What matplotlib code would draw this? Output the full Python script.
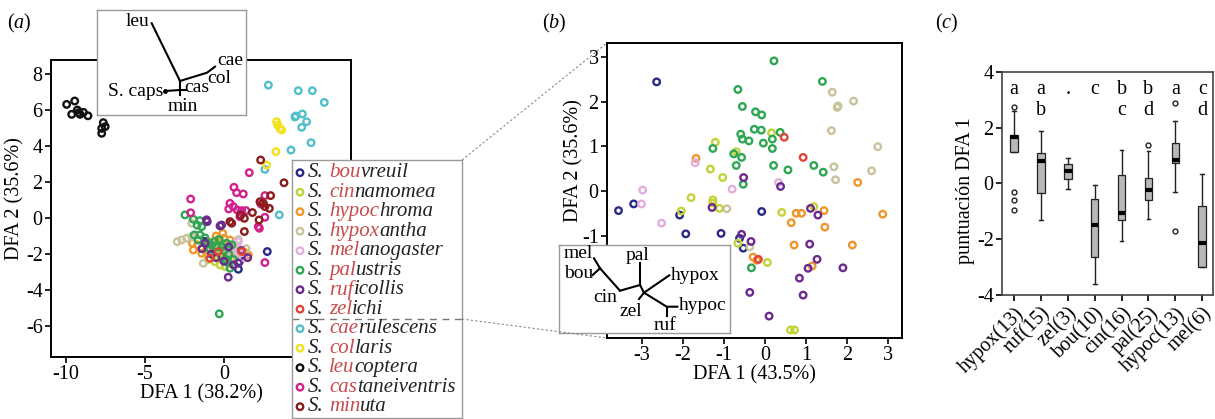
import matplotlib
matplotlib.use("Agg")
import matplotlib.pyplot as plt
from matplotlib.lines import Line2D

plt.rcParams['font.family'] = ['Liberation Serif', 'DejaVu Serif']
plt.rcParams['axes.unicode_minus'] = False
plt.rcParams['mathtext.fontset'] = 'custom'
plt.rcParams['mathtext.rm'] = 'Liberation Serif'
plt.rcParams['mathtext.it'] = 'Liberation Serif:italic'

W, H = 1215, 419
FS = 14.5

# ---------------- data ----------------
# species order in the legend: (prefix in red, rest, colour)
species = [("bou", "vreuil", "#2a2a86"), ("cin", "namomea", "#c4d23a"),
           ("hypoc", "hroma", "#ef962c"), ("hypox", "antha", "#c9c39c"),
           ("mel", "anogaster", "#e2aede"), ("pal", "ustris", "#2fa653"),
           ("ruf", "icollis", "#6c2b8c"), ("zel", "ichi", "#e0453a"),
           ("cae", "rulescens", "#52bfc9"), ("col", "laris", "#f2e21e"),
           ("leu", "coptera", "#111111"), ("cas", "taneiventris", "#d2228c"),
           ("min", "uta", "#8c1c1c")]

# panel (a): DFA scores of all 13 species
a_bou = [(0.59, -2.32), (0.97, -2.42), (0.91, -2.84), (2.74, -1.86), (1.22, -2.05),
         (-0.15, -1.96), (0.2, -2.1), (-1.2, -1.3), (0.45, -1.7), (-0.6, -2.0)]
a_cin = [(-0.57, -2.42), (-0.25, -2.6), (0.06, -2.69), (-0.4, -1.7), (0.1, -1.6), (0.5, -2.2),
         (-1.0, -2.3), (0.3, -2.5), (-0.2, -1.4), (0.8, -1.9), (-0.7, -1.9), (0.0, -2.1),
         (0.6, -1.6), (-0.3, -2.2), (0.35, -1.95), (-1.1, -2.0)]
a_hypoc = [(-0.08, -0.85), (0.0, -1.12), (-1.94, -1.77), (-1.67, -1.49), (-1.1, -1.77),
           (-1.41, -1.96), (-0.93, -1.35), (-0.36, -1.18), (1.54, -2.05), (0.38, -1.22),
           (-0.5, -1.0), (1.3, -1.9), (-2.0, -1.4)]
a_hypox = [(-2.96, -1.31), (-2.68, -1.22), (-2.36, -1.12), (-2.04, -1.03), (-2.04, -0.29),
           (-1.31, -2.51), (0.9, -1.2), (0.38, -1.96), (0.70, -2.05), (0.2, -1.8),
           (-0.2, -1.6), (1.4, -1.7), (0.6, -1.5)]
a_mel = [(0.91, -1.31), (1.01, -1.96), (0.8, -1.6), (1.2, -2.2), (0.5, -1.8), (-0.8, -1.5)]
a_pal = [(-2.47, 0.17), (-1.94, -0.07), (-1.52, -0.15), (-1.41, -0.48), (-1.88, -0.94),
         (-1.52, -0.94), (-1.63, -1.22), (-0.78, -1.49), (-0.46, -1.59), (-0.15, -1.62),
         (0.17, -1.40), (0.49, -1.49), (0.17, -2.42), (0.38, -2.78), (-0.3, -5.31),
         (-1.2, -1.1), (-0.6, -1.3), (0.0, -1.8), (-0.9, -1.7), (0.3, -2.0), (-1.7, -0.4),
         (-0.3, -1.2), (0.6, -2.3), (-1.0, -1.4), (0.1, -2.3)]
a_ruf = [(-1.06, -0.2), (-0.15, -0.39), (0.27, -3.28), (-1.1, -0.1), (-0.25, -0.44),
         (-1.2, -1.4), (0.6, -2.6), (1.5, -2.2), (-0.5, -2.2), (0.0, -2.4), (1.1, -1.8),
         (-0.8, -2.0), (0.3, -1.6), (-1.4, -1.7), (0.9, -2.5)]
a_zel = [(-0.36, -1.86), (-0.89, -2.23), (1.12, -1.86)]
a_cae = [(2.81, 7.36), (4.70, 7.05), (5.59, 7.05), (6.35, 6.40), (4.49, 5.59), (4.55, 5.65),
         (4.96, 5.76), (5.23, 5.33), (4.92, 5.02), (5.51, 4.17), (4.24, 3.76), (2.59, 2.69),
         (3.50, 0.17)]
a_col = [(3.33, 5.33), (3.40, 5.15), (3.54, 4.96), (3.65, 4.87), (3.29, 3.67), (2.70, 2.93)]
a_leu = [(-9.96, 6.29), (-9.45, 6.48), (-9.64, 5.74), (-9.28, 5.98), (-9.11, 5.74),
         (-8.90, 5.85), (-8.61, 5.66), (-9.2, 5.83), (-7.64, 5.28), (-7.74, 4.96),
         (-7.52, 5.06), (-7.74, 4.69)]
a_cas = [(-2.11, 1.05), (-2.11, 0.29), (1.60, 2.51), (0.63, 1.70), (0.80, 1.40), (1.22, 1.33),
         (0.38, 0.81), (0.59, 0.63), (0.30, 0.50), (0.84, 0.44), (1.12, 0.41), (1.39, 0.41),
         (1.01, 0.07), (2.24, -0.57), (2.59, 0.04), (2.59, -2.47), (2.34, 0.77), (2.59, 1.24),
         (2.17, -0.48), (1.06, 0.31)]
a_min = [(2.32, 3.21), (3.80, 1.95), (2.28, 0.90), (2.49, 0.81), (2.95, 1.24), (2.59, 0.63),
         (2.87, 0.53), (0.49, -0.29), (1.29, -0.02), (2.22, -0.11), (1.29, -0.75),
         (0.38, -0.2), (1.05, 0.15), (1.8, 0.3)]
a_points = [a_bou, a_cin, a_hypoc, a_hypox, a_mel, a_pal, a_ruf, a_zel,
            a_cae, a_col, a_leu, a_cas, a_min]

# panel (b): DFA of the eight capuchino species
b_bou = [(-2.64, 2.44), (-3.57, -0.44), (-3.20, -0.29), (-2.08, -0.54), (-1.93, -0.96),
         (-1.07, -0.95), (-0.08, -0.46), (-0.62, -1.06), (-0.53, -1.28)]
b_cin = [(-1.21, 1.09), (-0.70, 0.88), (-1.33, 0.49), (-1.03, 0.30), (-1.80, -0.15),
         (-2.04, -0.45), (-1.27, -0.20), (-1.27, -0.27), (-1.11, -0.39), (0.16, 1.30),
         (0.41, -0.48), (1.19, -0.35), (0.06, -1.60), (0.62, -3.11), (0.72, -3.11),
         (-0.66, -1.17)]
b_hypoc = [(-1.68, 0.73), (2.26, 0.19), (0.64, -0.71), (0.76, -0.50), (0.89, -0.50),
           (1.44, -0.44), (1.46, -0.81), (0.71, -1.21), (2.13, -1.21), (-0.29, -1.48),
           (1.15, -1.68), (2.87, -0.52), (-0.2, -1.55)]
b_hypox = [(1.64, 2.21), (2.16, 2.01), (1.76, 1.87), (1.78, 1.90), (1.62, 1.35), (1.68, 0.54),
           (1.72, 0.25), (2.75, 0.99), (2.60, 0.45), (-0.93, -0.40), (-0.37, -1.25)]
b_mel = [(-2.98, 0.02), (-3.01, -0.29), (-2.52, -0.72), (-1.70, 0.63), (-0.80, 0.04),
         (0.33, 0.19)]
b_pal = [(0.22, 2.91), (1.40, 2.45), (-0.66, 2.27), (-0.55, 1.89), (-0.23, 1.77), (-0.08, 1.70),
         (-0.26, 1.38), (-0.09, 1.36), (0.37, 1.31), (-0.59, 1.27), (-0.55, 1.16), (-0.39, 1.12),
         (0.18, 1.16), (-0.04, 1.07), (0.18, 0.95), (-0.76, 0.83), (-0.57, 0.75), (-0.70, 0.57),
         (0.21, 0.57), (0.56, 0.47), (1.19, 0.57), (1.42, 0.42), (-0.53, 0.15), (-1.27, 0.95),
         (-0.33, -1.72)]
b_ruf = [(-1.29, -0.37), (-0.52, 0.30), (0.38, 0.10), (1.11, -0.39), (1.29, -0.54),
         (-0.57, -0.97), (-0.34, -1.13), (1.09, -1.19), (1.27, -1.53), (1.05, -1.73),
         (1.90, -1.72), (0.84, -1.95), (-0.37, -2.27), (0.93, -2.33), (0.10, -2.80)]
b_zel = [(0.47, 1.20), (0.93, 0.75), (-0.16, -1.53)]
b_points = [b_bou, b_cin, b_hypoc, b_hypox, b_mel, b_pal, b_ruf, b_zel]

# panel (c): box plots of DFA 1 scores
groups = ['hypox(13)', 'ruf(15)', 'zel(3)', 'bou(10)', 'cin(16)', 'pal(25)', 'hypoc(13)', 'mel(6)']
q1 = [1.14, -0.35, 0.15, -2.65, -1.3, -0.58, 0.72, -3.0]
med = [1.68, 0.81, 0.45, -1.5, -1.06, -0.25, 0.86, -2.13]
q3 = [1.75, 1.08, 0.69, -0.55, 0.3, 0.2, 1.44, -0.82]
whislo = [1.14, -1.3, -0.19, -3.6, -2.07, -1.28, -0.32, -3.0]
whishi = [2.6, 1.87, 0.9, -0.07, 1.2, 1.17, 2.23, 0.35]
fliers = [[2.75, -0.3, -0.6, -0.95], [], [], [], [], [1.38], [2.9, -1.7], []]
letters_top = ['a', 'a', '.', 'c', 'b', 'b', 'a', 'c']
letters_bottom = ['', 'b', '', '', 'c', 'd', '', 'd']

# dendrograms (inset coordinates, pixels inside the inset box)
tree_a_segments = [[(54.7, 13.3), (83, 71)], [(83, 71), (110, 62.7), (118, 56.7)],
                   [(83, 71), (83, 80)], [(68, 81), (83, 80), (89, 80)], [(83, 80), (83, 85)]]
tree_a_labels = [("leu", 52, 12, 'right'), ("cae", 120, 50, 'left'), ("col", 110, 68, 'left'),
                 ("S. caps", 66, 81, 'right'), ("cas", 87, 77, 'left'), ("min", 86, 96, 'center')]
tree_b_segments = [[(35, 13.3), (41, 23.3)], [(33.7, 30), (41, 23.3)], [(41, 23.3), (61, 45.7)],
                   [(61, 45.7), (81, 40)], [(81, 40), (81, 18.3)], [(81, 40), (85, 47.7)],
                   [(85, 47.7), (110.3, 30.3)], [(85, 47.7), (107.7, 61.7), (118.3, 61.7)],
                   [(107.7, 61.7), (107.7, 71)], [(85, 47.7), (80, 54)]]
tree_b_labels = [("mel", 34, 9, 'right'), ("bou", 34, 29, 'right'), ("cin", 58, 52, 'right'),
                 ("pal", 78, 11, 'center'), ("hypox", 112, 30, 'left'), ("hypoc", 120, 61, 'left'),
                 ("ruf", 106, 80, 'center'), ("zel", 72, 67, 'center')]


def box(l, t, r, b):
    return [l / W, 1 - b / H, (r - l) / W, (b - t) / H]


def style_axes(ax, lw=1.4, color='black'):
    for s in ax.spines.values():
        s.set_linewidth(lw)
        s.set_color(color)
    ax.tick_params(direction='out', length=4, width=1.2, labelsize=FS, pad=2)


def grey_frame(ax):
    ax.set_xticks([])
    ax.set_yticks([])
    for s in ax.spines.values():
        s.set_color('#9a9a9a')
        s.set_linewidth(1.0)


fig = plt.figure(figsize=(W / 100, H / 100), dpi=100)
renderer = fig.canvas.get_renderer()


def text_width(ax, s, **kw):
    t = ax.text(0, 0, s, **kw)
    w = t.get_window_extent(renderer).width
    t.remove()
    return w


# ---------------- panel (a) ----------------
ax_a = fig.add_axes(box(51, 60, 351, 357))
for pts, (_, _, col) in zip(a_points, species):
    ax_a.scatter([p[0] for p in pts], [p[1] for p in pts], s=22, facecolors='none',
                 edgecolors=col, linewidths=1.7, zorder=3)
ax_a.set_xlim(-10.95, 8.04)
ax_a.set_ylim(-7.7, 8.75)
ax_a.set_xticks([-10, -5, 0])  # the "5" tick sits under the legend box
ax_a.set_yticks([-6, -4, -2, 0, 2, 4, 6, 8])
ax_a.set_xlabel('DFA 1 (38.2%)', fontsize=FS, labelpad=0)
ax_a.set_ylabel('DFA 2 (35.6%)', fontsize=FS)
ax_a.yaxis.set_label_coords(-0.087, 0.535)
style_axes(ax_a)

# inset tree (a)
ax_ta = fig.add_axes(box(97, 10, 246, 115))
ax_ta.set_xlim(0, 149)
ax_ta.set_ylim(105, 0)
for seg in tree_a_segments:
    ax_ta.plot([p[0] for p in seg], [p[1] for p in seg], color='black', lw=1.5)
ax_ta.plot([68], [81], marker='o', ms=2.5, color='black')
for txt, x, y, ha in tree_a_labels:
    ax_ta.text(x, y, txt, ha=ha, va='center', fontsize=14)
grey_frame(ax_ta)

# legend box (data units = pixels)
ax_lg = fig.add_axes(box(292, 160, 462, 418))
ax_lg.set_xlim(0, 170)
ax_lg.set_ylim(258, 0)
grey_frame(ax_lg)
lg_kw = dict(fontsize=15, fontstyle='italic', va='center', ha='left')
x_ref = text_width(ax_lg, 'x', **lg_kw)
for i, (pre, rest, col) in enumerate(species):
    y = 12.7 + i * 19.5
    ax_lg.scatter([8], [y], s=22, facecolors='none', edgecolors=col, linewidths=1.7)
    x0 = 16
    x1 = x0 + text_width(ax_lg, 'S. x', **lg_kw) - x_ref
    x2 = x0 + text_width(ax_lg, 'S. ' + pre + 'x', **lg_kw) - x_ref
    ax_lg.text(x0, y, 'S.', color='#222222', **lg_kw)
    ax_lg.text(x1, y, pre, color='#c94a4a', **lg_kw)
    ax_lg.text(x2, y, rest, color='#222222', **lg_kw)
ax_lg.plot([0, 170], [159, 159], color='#777777', lw=1.0, ls=(0, (5, 4)))

# ---------------- panel (b) ----------------
ax_b = fig.add_axes(box(607, 43, 902, 338))
for pts, (_, _, col) in zip(b_points, species[:8]):
    ax_b.scatter([p[0] for p in pts], [p[1] for p in pts], s=22, facecolors='none',
                 edgecolors=col, linewidths=1.7, zorder=3)
ax_b.set_xlim(-3.85, 3.34)
ax_b.set_ylim(-3.29, 3.31)
ax_b.set_xticks([-3, -2, -1, 0, 1, 2, 3])
ax_b.set_yticks([-1, 0, 1, 2, 3])  # lower ticks are covered by the tree inset
ax_b.set_xlabel('DFA 1 (43.5%)', fontsize=FS, labelpad=0)
ax_b.set_ylabel('DFA 2 (35.6%)', fontsize=FS)
ax_b.yaxis.set_label_coords(-0.081, 0.60)
style_axes(ax_b)

ax_tb = fig.add_axes(box(559, 245, 730, 333))
ax_tb.set_xlim(0, 171)
ax_tb.set_ylim(88, 0)
for seg in tree_b_segments:
    ax_tb.plot([p[0] for p in seg], [p[1] for p in seg], color='black', lw=1.5)
for txt, x, y, ha in tree_b_labels:
    ax_tb.text(x, y, txt, ha=ha, va='center', fontsize=14)
grey_frame(ax_tb)

# zoom connector lines between legend and panel (b)
for (x0, y0), (x1, y1) in [((462, 160), (607, 43)), ((462, 319), (607, 338))]:
    fig.add_artist(Line2D([x0 / W, x1 / W], [1 - y0 / H, 1 - y1 / H], transform=fig.transFigure,
                          color='#888888', lw=0.8, ls=(0, (2, 2))))

# ---------------- panel (c) ----------------
ax_c = fig.add_axes(box(1002, 72, 1213, 295))
stats = []
for i in range(len(groups)):
    stats.append(dict(med=med[i], q1=q1[i], q3=q3[i], whislo=whislo[i], whishi=whishi[i],
                      fliers=fliers[i], label=groups[i]))
ax_c.bxp(stats, positions=range(len(groups)), widths=0.28, patch_artist=True,
         boxprops=dict(facecolor='#b8b8b8', edgecolor='#222222', linewidth=0.9),
         medianprops=dict(color='black', linewidth=3),
         whiskerprops=dict(color='#222222', linewidth=1.0),
         capprops=dict(color='#222222', linewidth=1.0), capwidths=0.14,
         flierprops=dict(marker='o', markersize=3.5, markerfacecolor='none',
                         markeredgecolor='#222222', markeredgewidth=1.0))
for i in range(len(groups)):
    ax_c.text(i, 3.2, letters_top[i], ha='center', va='baseline', fontsize=FS)
    ax_c.text(i, 2.47, letters_bottom[i], ha='center', va='baseline', fontsize=FS)
ax_c.set_xlim(-0.45, 7.4)
ax_c.set_ylim(-4, 4)
ax_c.set_yticks([-4, -2, 0, 2, 4])
ax_c.set_xticks(range(len(groups)))
ax_c.set_xticklabels(groups, rotation=45, ha='right', rotation_mode='anchor')
ax_c.set_ylabel('puntuación DFA 1', fontsize=FS)
ax_c.yaxis.set_label_coords(-0.13, 0.47)
style_axes(ax_c, lw=1.2, color='#444444')

# panel letters
for txt, x in [('a', 7), ('b', 542), ('c', 935)]:
    fig.text(x / W, 1 - 23 / H, r'($\mathit{' + txt + r'}$)', fontsize=FS, va='center', ha='left')

fig.savefig('out.png', dpi=100)
